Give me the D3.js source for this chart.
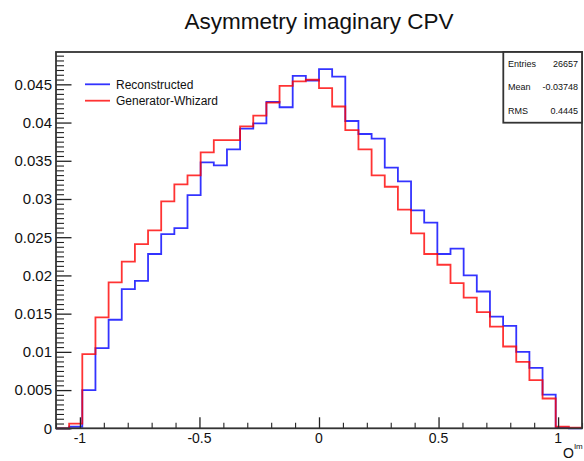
<!DOCTYPE html>
<html>
<head>
<meta charset="utf-8">
<script src="https://cdn.jsdelivr.net/npm/d3@7"></script>
<style>
  body { margin: 0; background: #fff; }
  text { font-family: "Liberation Sans", Arial, Helvetica, sans-serif; fill: #111; }
</style>
</head>
<body>
<svg id="chart" width="584" height="461"></svg>
<script>
// Histogram binning: 40 equal bins on [-1.1, 1.1]
const binLow = -1.1;
const binHigh = 1.1;
const nBins = 40;

// Normalised bin contents, one value per bin
const reconstructed = [
  0, 0.0002, 0.0050, 0.0105, 0.0142, 0.0182, 0.0193, 0.0228, 0.0254, 0.0262,
  0.0305, 0.0348, 0.0344, 0.0365, 0.0392, 0.0399, 0.0427, 0.0420, 0.0461, 0.0455,
  0.0470, 0.0460, 0.0402, 0.0385, 0.0379, 0.0341, 0.0323, 0.0285, 0.0269, 0.0228,
  0.0235, 0.0200, 0.0179, 0.0146, 0.0134, 0.0100, 0.0079, 0.0044, 0.0001, 0
];
const generatorWhizard = [
  0, 0.0006, 0.0097, 0.0145, 0.0191, 0.0218, 0.0241, 0.0259, 0.0297, 0.0319,
  0.0331, 0.0361, 0.0377, 0.0377, 0.0395, 0.0409, 0.0426, 0.0448, 0.0454, 0.0456,
  0.0445, 0.0421, 0.0390, 0.0365, 0.0331, 0.0316, 0.0286, 0.0255, 0.0228, 0.0214,
  0.0190, 0.0171, 0.0152, 0.0133, 0.0107, 0.0087, 0.0063, 0.0039, 0.0002, 0.0001
];

const seriesNames = ["Reconstructed", "Generator-Whizard"];
const seriesColors = ["#0000ff", "#ff0000"];

const xTickValues = [-1, -0.5, 0, 0.5, 1];
const xTickLabels = ["-1", "-0.5", "0", "0.5", "1"];
const yTickValues = [0, 0.005, 0.01, 0.015, 0.02, 0.025, 0.03, 0.035, 0.04, 0.045];
const yTickLabels = ["0", "0.005", "0.01", "0.015", "0.02", "0.025", "0.03", "0.035", "0.04", "0.045"];

const statNames = ["Entries", "Mean", "RMS"];
const statValues = ["26657", "-0.03748", "0.4445"];

const yMax = 0.04923;

// Frame geometry
const frameLeft = 56, frameRight = 582, frameTop = 52, frameBottom = 428.3;

const svg = d3.select("#chart");

const x = d3.scaleLinear().domain([binLow, binHigh]).range([frameLeft, frameRight]);
const y = d3.scaleLinear().domain([0, yMax]).range([frameBottom, frameTop]);

const binWidth = (binHigh - binLow) / nBins;

// Title
svg.append("text")
  .attr("x", 319).attr("y", 28.5)
  .attr("text-anchor", "middle")
  .style("font-size", "22.5px")
  .text("Asymmetry imaginary CPV");

// Histograms drawn as steps through bin edges
function stepPoints(values) {
  const pts = values.map((v, i) => [binLow + i * binWidth, v]);
  pts.push([binHigh, values[values.length - 1]]);
  return pts;
}
const step = d3.line()
  .x(d => x(d[0]))
  .y(d => y(d[1]))
  .curve(d3.curveStepAfter);

[reconstructed, generatorWhizard].forEach((vals, i) => {
  svg.append("path")
    .attr("d", step(stepPoints(vals)))
    .attr("fill", "none")
    .attr("stroke", seriesColors[i])
    .attr("stroke-width", 1.8)
    .attr("stroke-opacity", 0.8);
});

// Y axis ticks: majors every 0.005, minors every 0.000625
const gy = svg.append("g").attr("transform", `translate(${frameLeft},0)`)
  .call(d3.axisRight(y).tickValues(yTickValues).tickSize(15.5).tickFormat(""));
gy.select(".domain").remove();
gy.selectAll("line").attr("stroke", "#222").attr("stroke-width", 1.3);

const yMinor = d3.range(0, yMax, 0.000625).filter(v => Math.abs(v / 0.005 - Math.round(v / 0.005)) > 1e-6);
const gym = svg.append("g").attr("transform", `translate(${frameLeft},0)`)
  .call(d3.axisRight(y).tickValues(yMinor).tickSize(8).tickFormat(""));
gym.select(".domain").remove();
gym.selectAll("line").attr("stroke", "#222").attr("stroke-width", 1.1);

// Y tick labels
svg.append("g").selectAll("text")
  .data(yTickValues)
  .join("text")
  .attr("x", 52)
  .attr("y", d => y(d) + 5.3)
  .attr("text-anchor", "end")
  .style("font-size", "15px")
  .text((d, i) => yTickLabels[i]);

// X axis ticks: majors every 0.5, minors every 0.1
const gx = svg.append("g").attr("transform", `translate(0,${frameBottom})`)
  .call(d3.axisTop(x).tickValues(xTickValues).tickSize(11).tickFormat(""));
gx.select(".domain").remove();
gx.selectAll("line").attr("stroke", "#222").attr("stroke-width", 1.3);

const xMinor = d3.range(-11, 12).map(k => k / 10).filter(v => Math.abs(v * 2 - Math.round(v * 2)) > 1e-6);
const gxm = svg.append("g").attr("transform", `translate(0,${frameBottom})`)
  .call(d3.axisTop(x).tickValues(xMinor).tickSize(5.5).tickFormat(""));
gxm.select(".domain").remove();
gxm.selectAll("line").attr("stroke", "#222").attr("stroke-width", 1.1);

svg.append("g").selectAll("text")
  .data(xTickValues)
  .join("text")
  .attr("x", d => x(d))
  .attr("y", 443)
  .attr("text-anchor", "middle")
  .style("font-size", "14px")
  .text((d, i) => xTickLabels[i]);

// X axis title with superscript
const xt = svg.append("text")
  .attr("x", 563).attr("y", 457.5)
  .style("font-size", "14px");
xt.append("tspan").text("O");
xt.append("tspan").attr("dy", -9).style("font-size", "8px").text("Im");

// Frame
svg.append("rect")
  .attr("x", frameLeft).attr("y", frameTop)
  .attr("width", frameRight - frameLeft).attr("height", frameBottom - frameTop)
  .attr("fill", "none")
  .attr("stroke", "#333")
  .attr("stroke-width", 1.8);

// Legend
const legend = svg.append("g");
seriesNames.forEach((name, i) => {
  const ly = 84.3 + i * 16.4;
  legend.append("line")
    .attr("x1", 85).attr("x2", 110)
    .attr("y1", ly).attr("y2", ly)
    .attr("stroke", seriesColors[i])
    .attr("stroke-width", 1.8)
    .attr("stroke-opacity", 0.8);
  legend.append("text")
    .attr("x", 116).attr("y", ly + 4.3)
    .style("font-size", "12px")
    .text(name);
});

// Statistics box
const box = svg.append("g");
box.append("rect")
  .attr("x", 503.3).attr("y", frameTop)
  .attr("width", frameRight - 503.3).attr("height", 122.7 - frameTop)
  .attr("fill", "#fff")
  .attr("stroke", "#333")
  .attr("stroke-width", 1.8);
statNames.forEach((name, i) => {
  const sy = 67 + i * 23.3;
  box.append("text")
    .attr("x", 508).attr("y", sy)
    .style("font-size", "9px")
    .text(name);
  box.append("text")
    .attr("x", 578).attr("y", sy)
    .attr("text-anchor", "end")
    .style("font-size", "9px")
    .text(statValues[i]);
});
</script>
</body>
</html>
